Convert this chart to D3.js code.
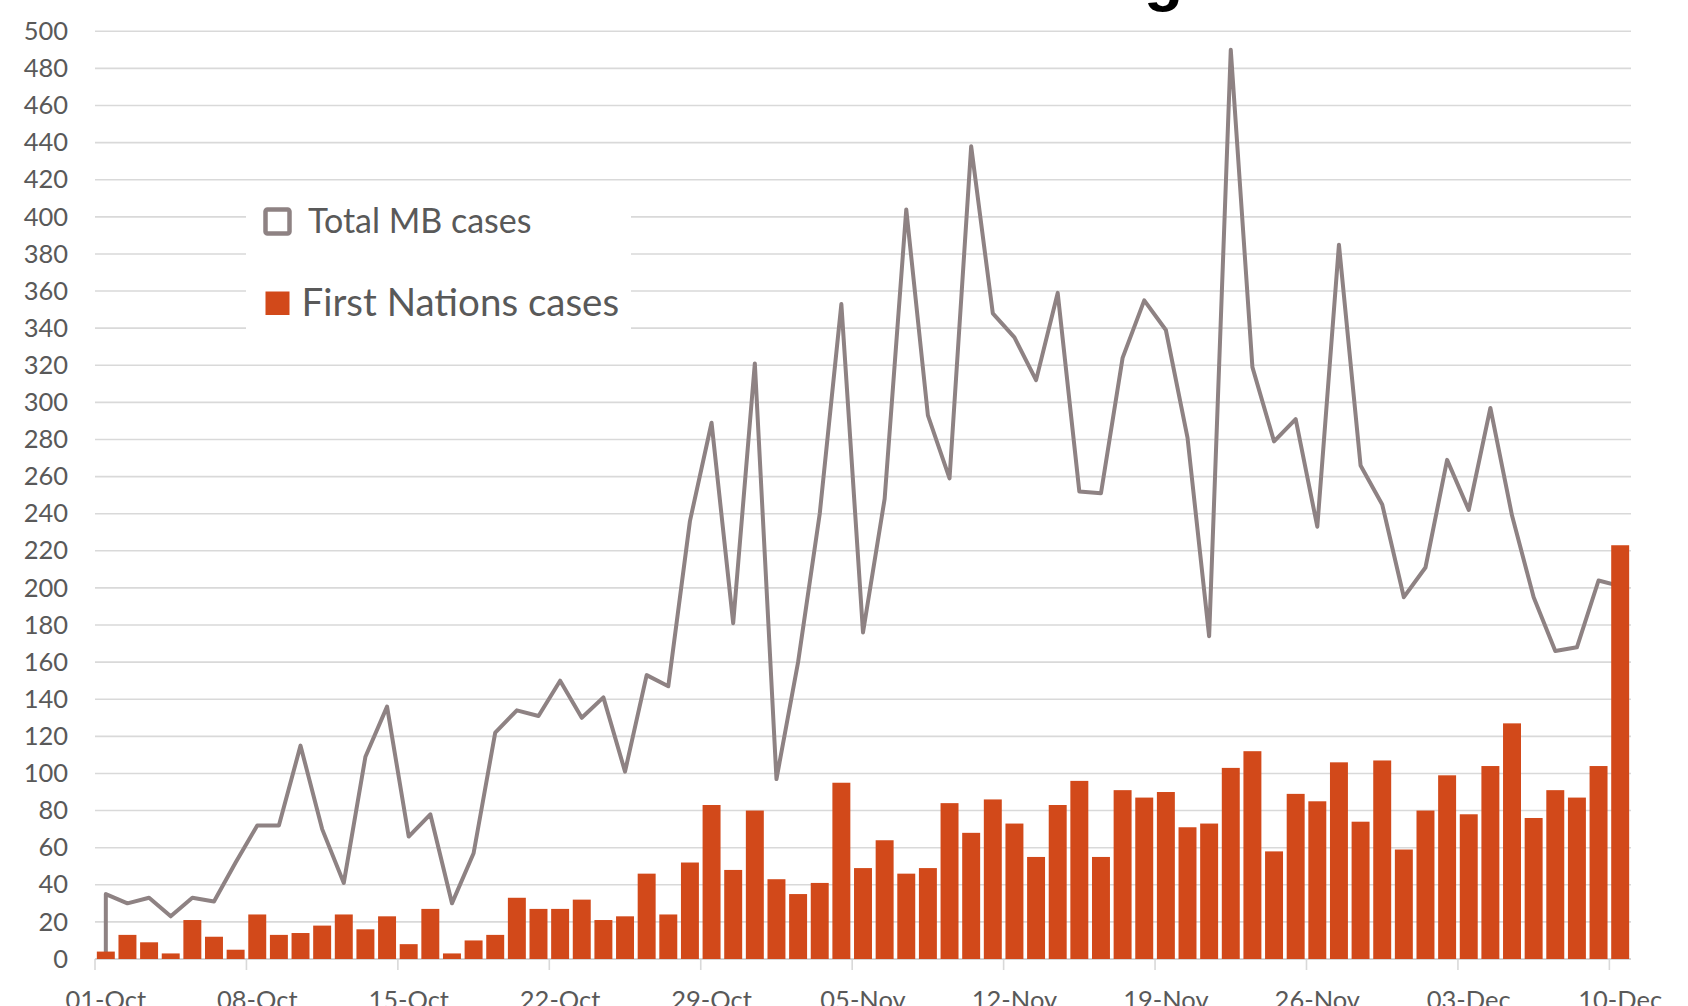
<!DOCTYPE html>
<html>
<head>
<meta charset="utf-8">
<script src="https://cdn.jsdelivr.net/npm/d3@7"></script>
<style>
  body { margin: 0; background: #fff; overflow: hidden; }
  #chart text { font-family: Lato, "Open Sans", sans-serif; }
</style>
</head>
<body>
<div id="chart"></div>
<script>
// Daily cases, 01-Oct to 10-Dec
const firstNationsCases = [
    4, 13, 9, 3, 21, 12, 5, 24, 13, 14, 18, 24, 16, 23, 8, 27, 3, 10, 13, 33, 27, 27, 32, 21, 23, 46, 24, 52, 83, 48, 80,
    43, 35, 41, 95, 49, 64, 46, 49, 84, 68, 86, 73, 55, 83, 96, 55, 91, 87, 90, 71, 73, 103, 112, 58, 89, 85, 106, 74, 107, 59,
    80, 99, 78, 104, 127, 76, 91, 87, 104, 223
];
const totalMBCases = [
    35, 30, 33, 23, 33, 31, 52, 72, 72, 115, 70, 41, 109, 136, 66, 78, 30, 57, 122, 134, 131, 150, 130, 141, 101, 153, 147, 236, 289, 181, 321,
    97, 160, 240, 353, 176, 248, 404, 293, 259, 438, 348, 335, 312, 359, 252, 251, 324, 355, 339, 281, 174, 490, 319, 279, 291, 233, 385, 266, 245, 195,
    211, 269, 242, 297, 239, 195, 166, 168, 204, 201
];
const seriesNames = ["Total MB cases", "First Nations cases"];
const yTicks = d3.range(0, 501, 20);
const chartTitle = "Manitoba COVID-19 cases are rising";

const days = d3.timeDay.range(new Date(2020, 9, 1), new Date(2020, 11, 11));
const fmt = d3.timeFormat("%d-%b");
const categories = days.map(fmt);
const tickLabels = categories.filter((d, i) => i % 7 === 0);

const width = 1688, height = 1006;
const plotLeft = 95, plotRight = 1631, plotTop = 31.3, plotBottom = 959;

const colors = { total: "#8e8283", fn: "#d2491a", grid: "#d9d9d9", text: "#595959" };

const svg = d3.select('#chart').append('svg')
    .attr('width', width)
    .attr('height', height);

// Scales
const x = d3.scaleBand()
    .domain(categories)
    .range([plotLeft, plotRight])
    .paddingInner(0.17)
    .paddingOuter(0.085);

const y = d3.scaleLinear()
    .domain([0, 500])
    .range([plotBottom, plotTop]);

const step = x.step();
const tickX = d => x(d) - step * x.paddingInner() / 2;

// Title (only the bottom of it shows at the top edge)
svg.append('text')
    .attr('x', 1183)
    .attr('y', -1)
    .attr('text-anchor', 'end')
    .style('font-family', '"Liberation Sans", Arial, sans-serif')
    .style('font-weight', 'bold')
    .style('font-size', '64px')
    .attr('fill', '#000')
    .text(chartTitle);

// Gridlines
svg.append('g')
    .selectAll('line')
    .data(yTicks)
    .enter().append('line')
    .attr('x1', plotLeft)
    .attr('x2', plotRight)
    .attr('y1', d => y(d))
    .attr('y2', d => y(d))
    .attr('stroke', colors.grid)
    .attr('stroke-width', 1.6);

// Y axis labels
const yAxis = svg.append('g')
    .attr('transform', `translate(${plotLeft},0)`)
    .call(d3.axisLeft(y).tickValues(yTicks).tickSize(0).tickPadding(27));
yAxis.select('.domain').remove();
yAxis.selectAll('text')
    .attr('fill', colors.text)
    .style('font-size', '25.5px');

// X axis: labels at band centres, tick marks between bands
const xAxis = svg.append('g')
    .attr('transform', `translate(0,${plotBottom})`)
    .call(d3.axisBottom(x).tickValues(tickLabels).tickSize(0).tickPadding(32));
xAxis.select('.domain').remove();
xAxis.selectAll('text')
    .attr('fill', colors.text)
    .style('font-size', '25.5px');

svg.append('g')
    .selectAll('line')
    .data(tickLabels)
    .enter().append('line')
    .attr('x1', d => tickX(d))
    .attr('x2', d => tickX(d))
    .attr('y1', plotBottom)
    .attr('y2', plotBottom + 11)
    .attr('stroke', colors.grid)
    .attr('stroke-width', 1.6);

svg.append('line')
    .attr('x1', plotLeft).attr('x2', plotRight)
    .attr('y1', plotBottom).attr('y2', plotBottom)
    .attr('stroke', '#d0d0d0')
    .attr('stroke-width', 1.6);

// Legend box (white, covers gridlines)
const legend = svg.append('g');
legend.append('rect')
    .attr('x', 246).attr('y', 185)
    .attr('width', 385).attr('height', 160)
    .attr('fill', '#fff');

legend.append('rect')
    .attr('x', 265.5).attr('y', 209.5)
    .attr('width', 24).attr('height', 24)
    .attr('rx', 2)
    .attr('fill', '#fff')
    .attr('stroke', colors.total)
    .attr('stroke-width', 4.5);
legend.append('text')
    .attr('x', 308).attr('y', 232.5)
    .attr('fill', colors.text)
    .style('font-size', '34px')
    .text(seriesNames[0]);

legend.append('rect')
    .attr('x', 265.5).attr('y', 291.5)
    .attr('width', 24).attr('height', 23.5)
    .attr('fill', colors.fn);
legend.append('text')
    .attr('x', 301.5).attr('y', 315.5)
    .attr('fill', colors.text)
    .style('font-size', '38.5px')
    .text(seriesNames[1]);

// Line for total cases (starts from the baseline on the first day)
const lineData = [{ day: categories[0], v: 0 }]
    .concat(categories.map((c, i) => ({ day: c, v: totalMBCases[i] })));

const line = d3.line()
    .x(d => x(d.day) + x.bandwidth() / 2)
    .y(d => y(d.v));

svg.append('path')
    .datum(lineData)
    .attr('d', line)
    .attr('fill', 'none')
    .attr('stroke', colors.total)
    .attr('stroke-width', 4)
    .attr('stroke-linejoin', 'round');

// Bars for First Nations cases
svg.append('g')
    .selectAll('rect')
    .data(firstNationsCases)
    .enter().append('rect')
    .attr('x', (d, i) => x(categories[i]))
    .attr('y', d => y(d))
    .attr('width', x.bandwidth())
    .attr('height', d => y(0) - y(d))
    .attr('fill', colors.fn);
</script>
</body>
</html>
